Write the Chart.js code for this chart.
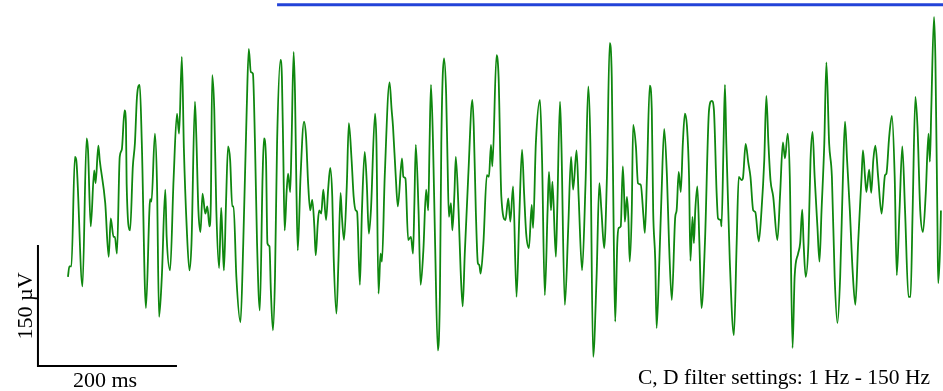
<!DOCTYPE html>
<html>
<head>
<meta charset="utf-8">
<title>EEG trace</title>
<script src="https://cdn.jsdelivr.net/npm/chart.js@4"></script>
<style>
    html, body { margin: 0; padding: 0; background: #ffffff; }
    #wrap { width: 943px; height: 391px; }
</style>
</head>
<body>
<div id="wrap"><canvas id="traceChart" width="943" height="391"></canvas></div>
<script>
// EEG trace, time in ms from trace start, amplitude in µV
const timeMs = [
    0, 2, 5, 10, 12, 21, 27, 29, 33, 38, 40, 44, 46, 54, 59, 62, 66, 68, 71, 75,
    78, 82, 84, 85, 90, 94, 97, 100, 104, 107, 113, 118, 119, 121, 126, 129, 132, 136, 141, 143,
    148, 153, 158, 161, 165, 168, 172, 176, 179, 184, 186, 189, 192, 195, 199, 202, 205, 207, 209, 212,
    215, 219, 222, 224, 226, 229, 232, 235, 238, 240, 244, 250, 254, 259, 262, 265, 268, 271, 274, 278,
    282, 284, 287, 289, 292, 294, 297, 300, 303, 308, 310, 312, 314, 317, 319, 322, 324, 327, 329, 331,
    333, 337, 342, 345, 348, 351, 354, 357, 359, 362, 364, 367, 370, 374, 377, 380, 383, 385, 389, 392,
    395, 397, 400, 404, 407, 411, 414, 417, 419, 423, 426, 430, 433, 436, 439, 445, 447, 450, 453, 455,
    459, 466, 469, 471, 475, 478, 484, 486, 489, 493, 497, 500, 502, 504, 508, 511, 515, 519, 522, 524,
    526, 529, 532, 536, 539, 541, 545, 548, 550, 552, 555, 557, 560, 562, 566, 569, 572, 575, 580, 586,
    588, 591, 594, 596, 598, 602, 607, 610, 613, 615, 621, 624, 628, 634, 638, 641, 645, 650, 654, 658,
    661, 664, 668, 672, 674, 678, 684, 687, 691, 695, 697, 700, 702, 707, 709, 713, 715, 720, 725, 729,
    732, 737, 740, 745, 750, 754, 757, 761, 766, 770, 773, 777, 781, 785, 788, 791, 793, 796, 798, 801,
    804, 806, 807, 810, 812, 814, 817, 819, 823, 826, 830, 834, 836, 839, 843, 846, 848, 851, 853, 857,
    860, 864, 868, 871, 875, 880, 882, 885, 888, 891, 894, 897, 900, 902, 905, 907, 909, 912, 915, 918,
    923, 929, 933, 936, 940, 942, 946, 947, 950, 952, 954, 959, 965, 969, 972, 976, 978, 982, 986, 989,
    993, 996, 1001, 1005, 1009, 1012, 1015, 1018, 1022, 1028, 1032, 1036, 1039, 1043, 1046, 1050, 1053, 1058, 1061, 1064,
    1066, 1069, 1073, 1076, 1079, 1082, 1086, 1089, 1092, 1096, 1099, 1103, 1107, 1111, 1115, 1119, 1123, 1126, 1129, 1133,
    1137, 1141, 1145, 1150, 1152, 1155, 1157, 1161, 1164, 1167, 1170, 1174, 1179, 1184, 1186, 1190, 1194, 1198, 1201, 1205,
    1209, 1213, 1218, 1221, 1224, 1228, 1231, 1235, 1239, 1243, 1247, 1249, 1251, 1255, 1257, 1260, 1261, 1264, 1265
];

const amplitudeUv = [
    -96, -83, -83, 54, 50, -108, 77, 63, -33, 37, 21, 68, 50, -4, -71, -23, -46, -46, -67, 54,
    63, 112, 96, 21, -38, 42, 71, 129, 144, 71, -135, -13, 1, -2, 83, 21, -146, -96, 13, -46,
    -88, 25, 108, 83, 179, 63, -33, -88, -54, 123, 79, -13, -40, 8, -17, -8, -33, -4, 156, 113,
    -13, -85, -10, -50, -88, -4, 67, 50, -8, -8, -96, -153, -54, 113, 189, 160, 158, 71, -54, -138,
    29, 77, 50, -54, -58, -113, -163, -96, 71, 175, 154, 58, -38, 13, 33, 10, 71, 185, 133, 17,
    -63, 29, 98, 79, 21, -13, 0, -33, -69, -29, -13, -17, 13, -25, 13, 40, 4, -71, -142, -75,
    9, -21, -50, 17, 96, 50, 4, -13, -15, -106, -13, 60, 21, -42, -13, 108, 71, -117, -67, -77,
    29, 147, 113, 92, 29, -8, 52, 29, 27, -50, -46, -67, -4, 69, -13, -106, -63, 13, -13, 71,
    144, 71, -54, -188, -117, 71, 177, 133, 50, -21, -4, -38, 8, 54, -13, -88, -133, -67, 29, 125,
    92, -13, -79, -81, -92, -54, 31, 29, 69, 42, 181, 154, 4, -25, 2, -27, 17, -121, -21, 63,
    8, -42, -60, -6, -35, 71, 125, 50, -119, -13, 35, -13, 23, -71, -13, 123, 71, -131, -33, 54,
    13, 62, 4, -88, 21, 142, 71, -196, -96, 21, -13, -60, 29, 196, 154, -54, -152, -54, -35, -33,
    42, 4, -27, 4, -21, -77, -13, 94, 67, 21, 19, -21, -41, 29, 143, 113, -13, -75, -160, -75,
    4, 89, 29, -54, -125, -21, -13, 35, 10, 71, 108, 92, 29, -76, -21, -54, -13, 17, -54, -135,
    -54, 113, 124, 113, 8, -23, -25, -33, 71, 144, 71, -75, -169, -54, 29, 25, 27, 70, 46, 29,
    -13, -15, -52, -13, 50, 130, 71, 25, 4, -50, 8, 72, 52, 83, 29, -185, -96, -67, -54, -12,
    -54, -96, -54, 50, 85, 29, -33, -77, -13, 71, 172, 71, 29, -96, -154, -96, 29, 98, 50, -13,
    -88, -131, -54, 29, 62, 29, 10, 38, 9, 50, 68, 29, -17, 31, 33, 79, 105, 29, -94, -13,
    67, -13, -121, -121, -13, 129, 92, -13, -40, 8, 83, 48, 113, 229, 175, -33, -104, -54, -13
];

// calibration bars: 200 ms horizontal, 150 µV vertical
const scaleBarMs = [-43.5, -43.5, 156.5];
const scaleBarUv = [-57.5, -207.5, -207.5];

// stimulus marker above the trace
const stimulusMs = [303, 1268];
const stimulusUv = [244, 244];

const timeRange = [-98.5, 1268];
const amplitudeRange = [-238.75, 250];

const labels = {
    amplitude: '150 µV',
    time: '200 ms',
    filter: 'C, D filter settings: 1 Hz - 150 Hz'
};

function toPoints(xs, ys) {
    return xs.map((x, i) => ({ x: x, y: ys[i] }));
}

// plain text labels around the calibration bars
const labelPlugin = {
    id: 'traceLabels',
    afterDraw(chart) {
        const ctx = chart.ctx;
        ctx.save();
        ctx.fillStyle = '#000000';
        ctx.textBaseline = 'alphabetic';

        ctx.font = '22px "Liberation Serif", "Times New Roman", serif';
        ctx.textAlign = 'center';
        ctx.fillText(labels.time, 105, 387);

        ctx.font = '21.5px "Liberation Serif", "Times New Roman", serif';
        ctx.textAlign = 'right';
        ctx.fillText(labels.filter, 930, 384);

        ctx.font = '22px "Liberation Serif", "Times New Roman", serif';
        ctx.translate(32, 306);
        ctx.rotate(-Math.PI / 2);
        ctx.textAlign = 'center';
        ctx.fillText(labels.amplitude, 0, 0);
        ctx.restore();
    }
};

document.addEventListener('DOMContentLoaded', () => {
    const ctx = document.getElementById('traceChart').getContext('2d');

    new Chart(ctx, {
        type: 'line',
        data: {
            datasets: [
                {
                    label: 'EEG',
                    data: toPoints(timeMs, amplitudeUv),
                    borderColor: '#0f870f',
                    borderWidth: 1.8,
                    borderJoinStyle: 'round',
                    pointRadius: 0,
                    cubicInterpolationMode: 'monotone',
                    fill: false
                },
                {
                    label: 'Calibration',
                    data: toPoints(scaleBarMs, scaleBarUv),
                    borderColor: '#000000',
                    borderWidth: 2,
                    borderCapStyle: 'square',
                    pointRadius: 0,
                    tension: 0,
                    fill: false
                },
                {
                    label: 'Stimulus',
                    data: toPoints(stimulusMs, stimulusUv),
                    borderColor: '#2343d8',
                    borderWidth: 3,
                    pointRadius: 0,
                    tension: 0,
                    fill: false
                }
            ]
        },
        options: {
            responsive: false,
            animation: false,
            devicePixelRatio: 1,
            layout: { padding: 0 },
            plugins: {
                legend: { display: false },
                tooltip: { enabled: false },
                title: { display: false }
            },
            scales: {
                x: {
                    type: 'linear',
                    display: false,
                    min: timeRange[0],
                    max: timeRange[1]
                },
                y: {
                    type: 'linear',
                    display: false,
                    min: amplitudeRange[0],
                    max: amplitudeRange[1]
                }
            }
        },
        plugins: [labelPlugin]
    });
});
</script>
</body>
</html>
